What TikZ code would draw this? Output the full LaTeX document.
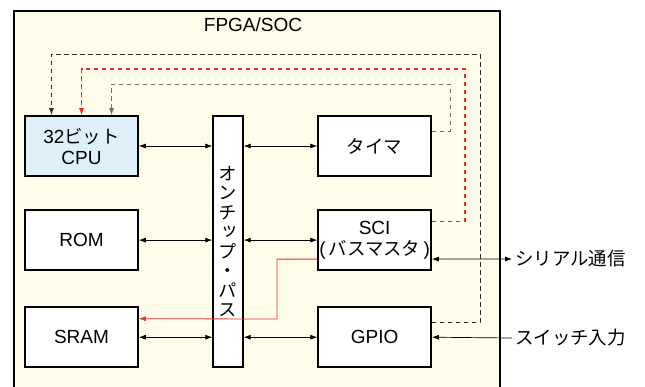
\documentclass[tikz,border=0pt]{standalone}
\usepackage{fontspec}
\setmainfont{Liberation Sans}
\newfontfamily\jp[Scale=0.97]{Noto Sans CJK JP}
\newfontfamily\jpv[Scale=0.97,RawFeature=+vert]{Noto Sans CJK JP}
\usepackage{tikz}
\usetikzlibrary{arrows.meta,positioning,calc}
\definecolor{socbg}{RGB}{255,252,234}
\definecolor{cpublue}{RGB}{222,241,250}
\definecolor{sigred}{RGB}{232,50,50}
\definecolor{dashred}{RGB}{245,40,40}
\definecolor{dashgray}{RGB}{110,110,110}
\definecolor{dashdark}{RGB}{45,45,45}

\begin{document}
\begin{tikzpicture}[
    x=1pt, y=-1pt,
    font=\fontsize{19}{21}\selectfont,
    >={Latex[length=7pt,width=5pt]},
    block/.style={rectangle, draw=black, line width=1.6pt, fill=white, minimum width=113pt, minimum height=60pt, inner sep=1pt, align=center},
    busbar/.style={rectangle, draw=black, line width=1.4pt, fill=white, minimum width=30pt, minimum height=251pt, inner sep=0pt, align=center, font=\fontsize{19}{19.5}\selectfont\jpv},
    link/.style={<->, line width=0.7pt},
    ctrl/.style={->, dash pattern=on 4.5pt off 3.5pt, line width=0.9pt}
]
\useasboundingbox (0,0) rectangle (645,386);

\node[draw=black, line width=1.6pt, fill=socbg, anchor=north west, minimum width=486pt, minimum height=390pt, inner sep=0pt] (soc) at (13,10) {};
\node (title) at (253,25) {FPGA/SOC};

\node[block, fill=cpublue] (cpu) at (81.5,146) {32{\jp ビット}\\CPU};
\node[block, below=32.5pt of cpu] (rom) {ROM};
\node[block, below=35.5pt of rom] (sram) {SRAM};
\node[block, right=178.5pt of cpu] (timer) {\jp タイマ};
\node[block, below=32.5pt of timer] (sci) {SCI\\(\,{\jp バスマスタ}\,)};
\node[block, below=35.5pt of sci] (gpio) {GPIO};
\node[busbar] (bus) at (228,241.5) {オ\\ン\\チ\\ッ\\プ\\・\\パ\\ス};

\node[anchor=west, inner sep=3pt] (serial) at (512,259) {\jp シリアル通信};
\node[anchor=west, inner sep=3pt] (switch) at (512,338) {\jp スイッチ入力};

\draw[link] (cpu.east) -- (cpu.east -| bus.west);
\draw[link] (rom.east) -- (rom.east -| bus.west);
\draw[link] (sram.east) -- (sram.east -| bus.west);
\draw[link] (timer.west -| bus.east) -- (timer.west);
\draw[link] (sci.west -| bus.east) -- (sci.west);
\draw[link] (gpio.west -| bus.east) -- (gpio.west);

\draw[link] ($(sci.east)+(0,19)$) -- (serial.west);
\draw[->, line width=0.7pt] (switch.west) -- (gpio.east);

\draw[ctrl, dashdark] ($(gpio.east)+(0,-14.5)$) -| (480,54) -| ($(cpu.north)+(-30,0)$);
\draw[ctrl, dashred, line width=1.1pt] ($(sci.east)+(0,-19)$) -| (465,69) -| (cpu.north);
\draw[ctrl, dashgray] ($(timer.east)+(0,-15)$) -| (450,84) -| ($(cpu.north)+(30,0)$);

\draw[->, sigred, line width=0.8pt] ($(sci.west)+(0,19)$) -| (277,319) -- ($(sram.east)+(0,-18.5)$);

\end{tikzpicture}
\end{document}
